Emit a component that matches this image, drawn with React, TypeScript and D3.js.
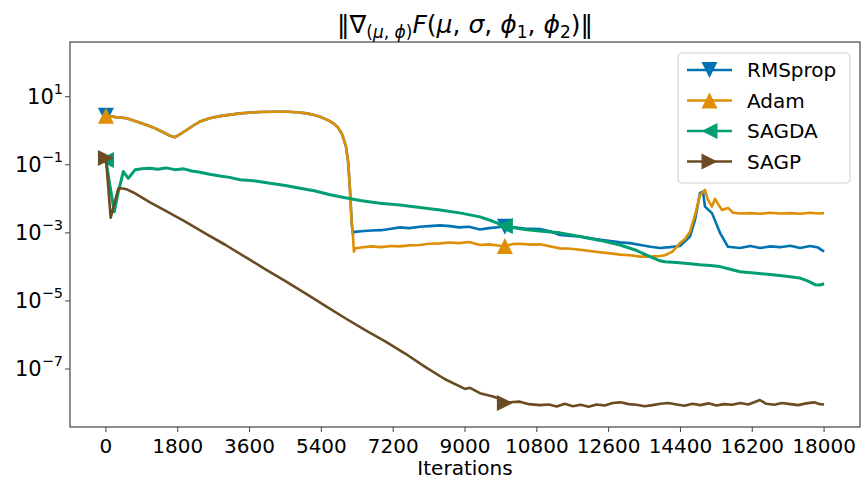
import React from "react";
import * as d3 from "d3";

// iterations vs ||grad||
const headRows: [number, number][] = [
  [0, 2.75], [250, 2.51], [521, 2.32], [800, 1.82], [1022, 1.48], [1200, 1.23],
  [1356, 1.0], [1500, 0.83], [1606, 0.71], [1732, 0.645], [1850, 0.78], [2025, 1.05],
  [2200, 1.45], [2358, 1.86], [2600, 2.34], [2859, 2.69], [3361, 3.24], [3862, 3.55],
  [4200, 3.63], [4531, 3.63], [4800, 3.51], [5032, 3.24], [5200, 2.95], [5366, 2.57],
  [5550, 2.09], [5699, 1.66], [5810, 1.26], [5910, 0.84], [5970, 0.525], [6017, 0.34],
  [6075, 0.112], [6118, 0.0182], [6160, 0.00195],
];

const rmspropTail: [number, number][] = [
  [6190, 9.5e-4], [6230, 1.07e-3], [6400, 1.12e-3], [6650, 1.17e-3], [6900, 1.2e-3],
  [7150, 1.32e-3], [7371, 1.45e-3], [7600, 1.38e-3], [7872, 1.51e-3], [8100, 1.58e-3],
  [8373, 1.66e-3], [8624, 1.58e-3], [8850, 1.45e-3], [9100, 1.51e-3], [9376, 1.26e-3],
  [9600, 1.38e-3], [9877, 1.48e-3], [10000, 1.51e-3], [10200, 1.45e-3], [10500, 1.35e-3],
  [10880, 1.29e-3], [11150, 1.1e-3], [11381, 8.7e-4], [11650, 8.1e-4], [11882, 7.8e-4],
  [12150, 6.9e-4], [12400, 6.3e-4], [12650, 5.75e-4], [12885, 5.25e-4], [13135, 5.0e-4],
  [13400, 4.4e-4], [13650, 3.9e-4], [13887, 3.6e-4], [14138, 3.8e-4], [14388, 4.1e-4],
  [14639, 7.8e-4], [14764, 2.4e-3], [14890, 1.48e-2], [14965, 1.62e-2], [15015, 5.9e-3],
  [15190, 3.8e-3], [15391, 1.0e-3], [15592, 3.9e-4], [15892, 3.6e-4], [16150, 4.1e-4],
  [16400, 3.6e-4], [16650, 4.0e-4], [16900, 3.8e-4], [17150, 4.2e-4], [17400, 3.6e-4],
  [17650, 4.1e-4], [17850, 3.7e-4], [18000, 2.8e-4],
];

const adamTail: [number, number][] = [
  [6193, 7.8e-4], [6215, 2.8e-4], [6243, 3.5e-4], [6400, 3.7e-4], [6650, 4.0e-4],
  [6900, 3.8e-4], [7150, 4.1e-4], [7371, 4.0e-4], [7600, 4.3e-4], [7872, 4.4e-4],
  [8100, 4.8e-4], [8373, 4.9e-4], [8600, 5.2e-4], [8850, 5.0e-4], [9100, 5.4e-4],
  [9376, 4.4e-4], [9600, 4.6e-4], [9877, 4.2e-4], [10000, 4.1e-4], [10200, 4.7e-4],
  [10378, 4.8e-4], [10650, 4.5e-4], [10880, 4.6e-4], [11150, 4.0e-4], [11381, 3.5e-4],
  [11650, 3.4e-4], [11882, 3.2e-4], [12150, 2.9e-4], [12383, 2.7e-4], [12650, 2.5e-4],
  [12885, 2.3e-4], [13135, 2.2e-4], [13386, 2.0e-4], [13637, 2.0e-4], [13887, 2.1e-4],
  [14013, 2.2e-4], [14200, 2.8e-4], [14388, 5.0e-4], [14514, 6.6e-4], [14639, 1.07e-3],
  [14764, 3.3e-3], [14890, 1.29e-2], [15015, 1.82e-2], [15090, 9.3e-3], [15190, 5.9e-3],
  [15266, 1.0e-2], [15341, 7.1e-3], [15441, 4.7e-3], [15592, 5.4e-3], [15717, 3.9e-3],
  [15900, 3.7e-3], [16150, 3.8e-3], [16400, 3.63e-3], [16650, 3.9e-3], [16900, 3.7e-3],
  [17150, 3.8e-3], [17400, 3.63e-3], [17650, 3.9e-3], [17850, 3.7e-3], [18000, 3.8e-3],
];

const sagdaRows: [number, number][] = [
  [0, 0.138], [100, 0.025], [210, 4.2e-3], [300, 0.0141], [436, 0.063], [561, 0.04],
  [729, 0.071], [900, 0.076], [1105, 0.079], [1300, 0.074], [1500, 0.081], [1732, 0.072],
  [1950, 0.076], [2150, 0.066], [2358, 0.06], [2600, 0.0525], [2859, 0.0468], [3100, 0.0427],
  [3361, 0.0363], [3700, 0.0339], [4113, 0.0288], [4500, 0.0245], [4864, 0.0204], [5250, 0.017],
  [5616, 0.0132], [6000, 0.0107], [6368, 8.9e-3], [6870, 7.4e-3], [7371, 6.6e-3], [7872, 5.6e-3],
  [8373, 4.7e-3], [8900, 3.8e-3], [9376, 2.95e-3], [9700, 2.19e-3], [10000, 1.58e-3],
  [10500, 1.26e-3], [11000, 1.1e-3], [11381, 1.0e-3], [11882, 7.8e-4], [12383, 6.0e-4],
  [12885, 4.4e-4], [13250, 3.2e-4], [13637, 2.0e-4], [13887, 1.51e-4], [14013, 1.41e-4],
  [14300, 1.35e-4], [14639, 1.23e-4], [14890, 1.15e-4], [15150, 1.1e-4], [15391, 1.02e-4],
  [15650, 8.5e-5], [15892, 7.2e-5], [16250, 6.6e-5], [16644, 6.0e-5], [17000, 5.4e-5],
  [17396, 4.7e-5], [17600, 3.8e-5], [17772, 3.0e-5], [17900, 2.95e-5], [18000, 3.2e-5],
];

const sagpRows: [number, number][] = [
  [0, 0.158], [120, 2.8e-3], [312, 0.0204], [420, 0.02], [521, 0.019], [700, 0.0151],
  [1105, 7.9e-3], [1500, 4.4e-3], [2000, 2.1e-3], [2500, 9.5e-4], [3000, 4.4e-4],
  [3500, 1.93e-4], [4000, 8.5e-5], [4500, 3.8e-5], [5000, 1.66e-5], [5500, 7.2e-6],
  [6000, 3.1e-6], [6500, 1.38e-6], [7000, 6.5e-7], [7500, 2.85e-7], [8000, 1.16e-7],
  [8500, 5.0e-8], [9000, 2.6e-8], [9125, 2.8e-8], [9376, 1.95e-8], [9702, 1.55e-8],
  [9877, 1.32e-8], [10000, 1.0e-8], [10200, 1.07e-8], [10378, 1.1e-8], [10600, 9.3e-9],
  [10880, 8.7e-9], [11100, 9.1e-9], [11300, 7.9e-9], [11500, 9.5e-9], [11700, 8.1e-9],
  [11900, 8.9e-9], [12100, 7.8e-9], [12300, 9.1e-9], [12500, 8.5e-9], [12700, 1.0e-8],
  [12900, 1.05e-8], [13100, 9.3e-9], [13300, 8.9e-9], [13500, 8.1e-9], [13700, 8.7e-9],
  [13900, 9.5e-9], [14100, 1.0e-8], [14300, 9.1e-9], [14500, 8.3e-9], [14700, 9.5e-9],
  [14900, 8.7e-9], [15100, 9.8e-9], [15300, 8.5e-9], [15500, 9.3e-9], [15700, 8.9e-9],
  [15900, 1.0e-8], [16100, 9.1e-9], [16393, 1.23e-8], [16550, 9.5e-9], [16750, 8.9e-9],
  [16950, 1.0e-8], [17150, 9.3e-9], [17350, 8.7e-9], [17550, 9.8e-9], [17750, 1.05e-8],
  [17900, 9.3e-9], [18000, 9.1e-9],
];

const seriesNames = ["RMSprop", "Adam", "SAGDA", "SAGP"];
const seriesColors = ["#0173b2", "#de8f05", "#029e73", "#6a4b22"];
const seriesMarkers = ["down", "up", "left", "right"];
const seriesRows = [
  headRows.concat(rmspropTail),
  headRows.concat(adamTail),
  sagdaRows,
  sagpRows,
];
const markerIters = [0, 10000];
const xTicks = [0, 1800, 3600, 5400, 7200, 9000, 10800, 12600, 14400, 16200, 18000];
const yTickExps = [1, -1, -3, -5, -7];

const W = 861;
const H = 482;
const box = { left: 70, right: 860, top: 42, bottom: 427 };
const font = "DejaVu Sans, sans-serif";

function triangle(kind: string, s: number) {
  if (kind === "down") return `M0,${s}L${-s},${-s}L${s},${-s}Z`;
  if (kind === "up") return `M0,${-s}L${-s},${s}L${s},${s}Z`;
  if (kind === "left") return `M${-s},0L${s},${-s}L${s},${s}Z`;
  return `M${s},0L${-s},${-s}L${-s},${s}Z`;
}

export default function App() {
  const x = d3.scaleLinear().domain([-900, 18900]).range([box.left, box.right]);
  const y = d3.scaleLog().domain([1.98e-9, 404.6]).range([box.bottom, box.top]);
  const line = d3
    .line<[number, number]>()
    .x((d) => x(d[0]))
    .y((d) => y(d[1]));

  const legendY = [70, 100.5, 131, 161.5];

  return (
    <svg
      width={W}
      height={H}
      style={{ position: "absolute", left: 0, top: 0, background: "#fff" }}
      fontFamily={font}
    >
      <defs>
        <clipPath id="plot">
          <rect x={box.left} y={box.top} width={box.right - box.left} height={box.bottom - box.top} />
        </clipPath>
      </defs>

      {/* series */}
      <g clipPath="url(#plot)">
        {seriesRows.map((rows, i) => (
          <g key={seriesNames[i]}>
            <path d={line(rows) || ""} fill="none" stroke={seriesColors[i]} strokeWidth={i === 2 ? 3 : 2.6} strokeLinejoin="round" />
            {markerIters.map((it) => {
              const p = rows.find((r) => r[0] === it);
              if (!p) return null;
              return (
                <path
                  key={it}
                  d={triangle(seriesMarkers[i], 8)}
                  transform={`translate(${x(p[0])},${y(p[1])})`}
                  fill={seriesColors[i]}
                />
              );
            })}
          </g>
        ))}
      </g>

      {/* frame */}
      <rect
        x={box.left}
        y={box.top}
        width={box.right - box.left}
        height={box.bottom - box.top}
        fill="none"
        stroke="#444"
        strokeWidth={1.2}
      />

      {/* x axis */}
      {xTicks.map((t) => (
        <g key={t} transform={`translate(${x(t)},0)`}>
          <line y1={box.bottom} y2={box.bottom + 5} stroke="#444" />
          <text y={453} textAnchor="middle" fontSize={20} fill="#000">
            {t}
          </text>
        </g>
      ))}
      <text x={(box.left + box.right) / 2} y={475} textAnchor="middle" fontSize={20}>
        Iterations
      </text>

      {/* y axis */}
      {yTickExps.map((e) => (
        <g key={e} transform={`translate(0,${y(Math.pow(10, e))})`}>
          <line x1={box.left - 5} x2={box.left} stroke="#444" />
          <text x={63} y={7} textAnchor="end" fontSize={21}>
            10
            <tspan fontSize={14.5} dy={-10}>
              {e < 0 ? `\u2212${-e}` : `${e}`}
            </tspan>
          </text>
        </g>
      ))}

      {/* title */}
      <text x={(box.left + box.right) / 2} y={33} textAnchor="middle" fontSize={25}>
        <tspan>{"\u2016\u2207"}</tspan>
        <tspan fontSize={17} dy={5}>
          (<tspan fontStyle="italic">μ</tspan>, <tspan fontStyle="italic">ϕ</tspan>)
        </tspan>
        <tspan dy={-5} fontStyle="italic">F</tspan>
        <tspan>(</tspan>
        <tspan fontStyle="italic">μ</tspan>
        <tspan>, </tspan>
        <tspan fontStyle="italic">σ</tspan>
        <tspan>, </tspan>
        <tspan fontStyle="italic">ϕ</tspan>
        <tspan fontSize={17} dy={5}>1</tspan>
        <tspan dy={-5}>, </tspan>
        <tspan fontStyle="italic">ϕ</tspan>
        <tspan fontSize={17} dy={5}>2</tspan>
        <tspan dy={-5}>{")\u2016"}</tspan>
      </text>

      {/* legend */}
      <rect x={678} y={53} width={172} height={130} rx={4} fill="#fff" fillOpacity={0.8} stroke="#d0d0d0" />
      {seriesNames.map((name, i) => (
        <g key={name} transform={`translate(0,${legendY[i]})`}>
          <line x1={687} x2={732} stroke={seriesColors[i]} strokeWidth={2.6} />
          <path d={triangle(seriesMarkers[i], 8)} transform="translate(709.5,0)" fill={seriesColors[i]} />
          <text x={747} y={7} fontSize={20}>
            {name}
          </text>
        </g>
      ))}
    </svg>
  );
}
